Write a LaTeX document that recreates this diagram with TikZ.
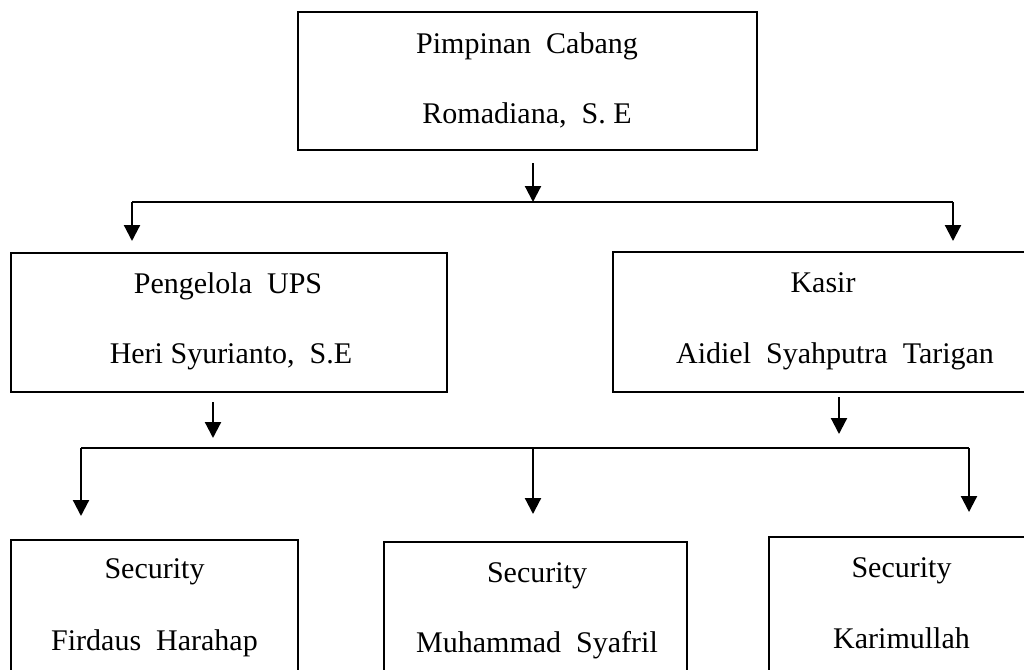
\documentclass[tikz,border=0pt]{standalone}
\usepackage{fontspec}
\setmainfont{Liberation Serif}
\usetikzlibrary{arrows.meta}
\newcommand{\wsp}{\hspace{0.5em}}
\tikzset{
  box/.style={draw, line width=2.2pt, inner sep=0pt},
  lbl/.style={anchor=base, inner sep=0pt, font=\fontsize{30}{36}\selectfont},
  conn/.style={line width=2.2pt},
  arr/.style={line width=2.2pt, -{Triangle[width=16pt,length=16pt]}}
}
\begin{document}
\begin{tikzpicture}[x=1pt,y=-1pt]
\useasboundingbox (0,0) rectangle (1024,669);
% boxes
\node[box, minimum width=459pt, minimum height=138pt] (top) at (527.5,81) {};
\node[box, minimum width=436pt, minimum height=139pt] (ups) at (229,322.5) {};
\node[box, minimum width=420pt, minimum height=140pt] (kasir) at (823,322) {};
\node[box, minimum width=287pt, minimum height=200pt] (s1) at (154.5,640) {};
\node[box, minimum width=303pt, minimum height=200pt] (s2) at (535.5,642) {};
\node[box, minimum width=265pt, minimum height=200pt] (s3) at (901.5,637) {};
% texts
\node[lbl] (t1a) at (527,53) {Pimpinan\wsp Cabang};
\node[lbl] (t1b) at (527,123) {Romadiana,\wsp S. E};
\node[lbl] (t2a) at (228,293) {Pengelola\wsp UPS};
\node[lbl] (t2b) at (231,363) {Heri Syurianto,\wsp S.E};
\node[lbl] (t3a) at (823,292) {Kasir};
\node[lbl] (t3b) at (835,363) {Aidiel\wsp Syahputra\wsp Tarigan};
\node[lbl] (t4a) at (154.5,578) {Security};
\node[lbl] (t4b) at (154.5,650) {Firdaus\wsp Harahap};
\node[lbl] (t5a) at (537,582) {Security};
\node[lbl] (t5b) at (537,652) {Muhammad\wsp Syafril};
\node[lbl] (t6a) at (901.5,577) {Security};
\node[lbl] (t6b) at (901.5,648) {Karimullah};
% connector coordinates
\coordinate (a0) at (533,163);
\coordinate (a1) at (533,202);
\coordinate (bl) at (132,202);
\coordinate (br) at (953,202);
\coordinate (blt) at (132,241);
\coordinate (brt) at (953,241);
\coordinate (c0) at (213,402);
\coordinate (c1) at (213,438);
\coordinate (d0) at (839,397);
\coordinate (d1) at (839,434);
\coordinate (el) at (81,448);
\coordinate (em) at (533,448);
\coordinate (er) at (969,448);
\coordinate (elt) at (81,516);
\coordinate (emt) at (533,514);
\coordinate (ert) at (969,512);
% connectors
\draw[arr] (a0) -- (a1);
\draw[conn] (bl) -- (br);
\draw[arr] (bl) -- (blt);
\draw[arr] (br) -- (brt);
\draw[arr] (c0) -- (c1);
\draw[arr] (d0) -- (d1);
\draw[conn] (el) -- (er);
\draw[arr] (el) -- (elt);
\draw[arr] (em) -- (emt);
\draw[arr] (er) -- (ert);
\end{tikzpicture}
\end{document}
